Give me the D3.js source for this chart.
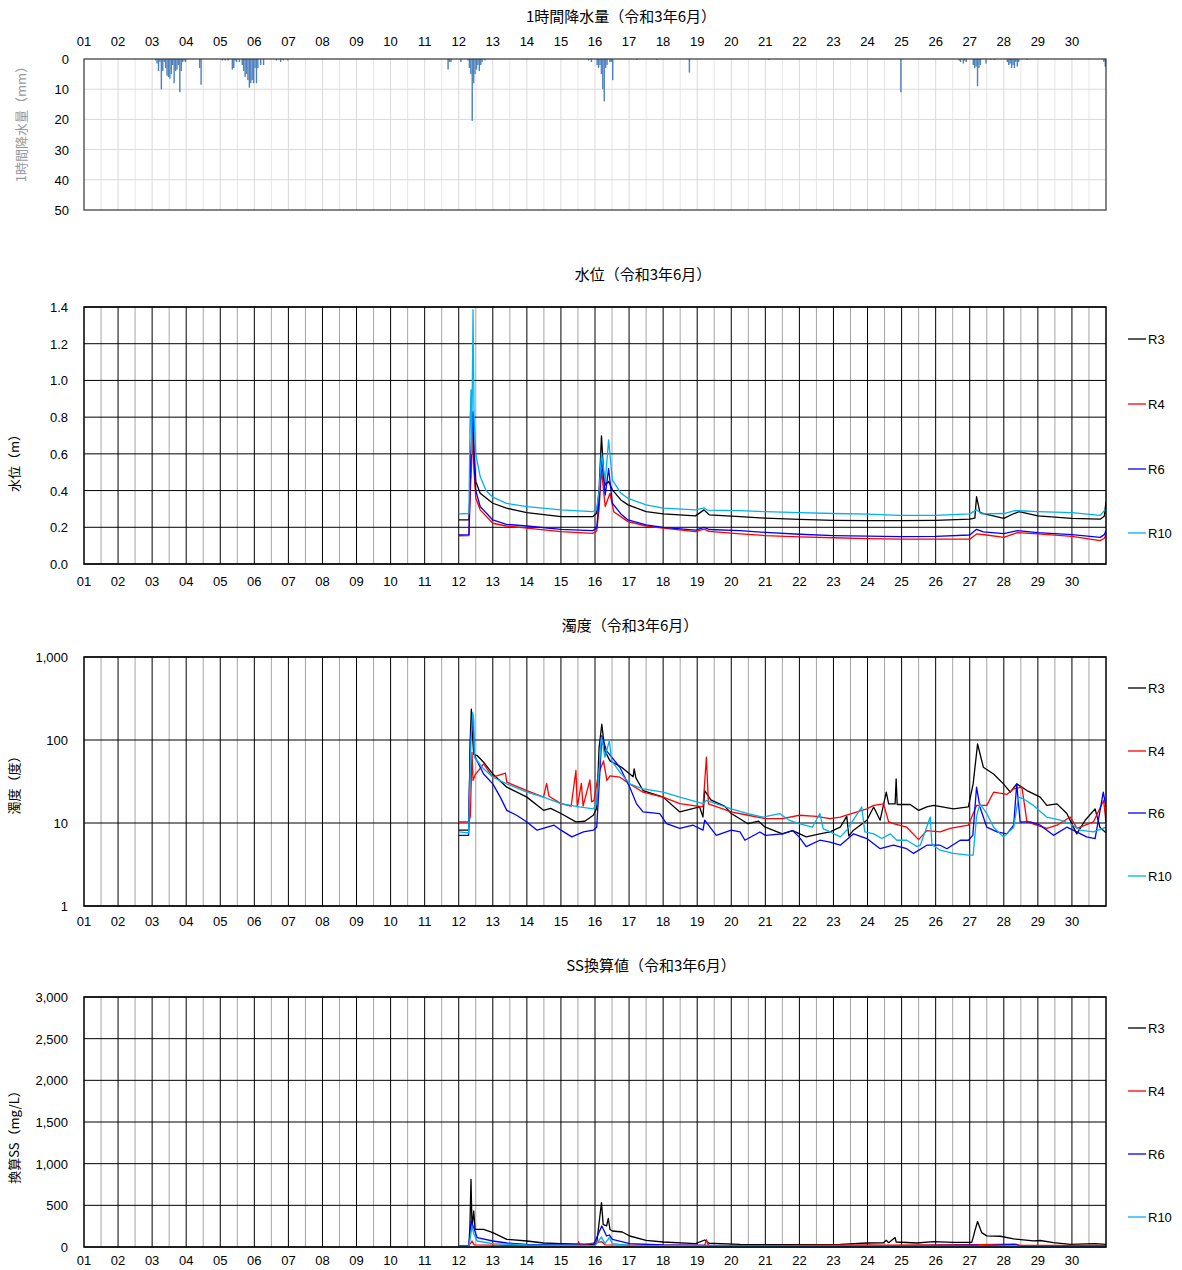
<!DOCTYPE html>
<html>
<head>
<meta charset="utf-8">
<script src="https://cdn.jsdelivr.net/npm/d3@7"></script>
<style>
  body { margin: 0; background: #fff; }
  svg text { font-family: "Liberation Sans", "Noto Sans CJK JP", sans-serif; }
  .jp { font-family: "Noto Sans CJK JP", sans-serif; }
</style>
</head>
<body>
<div id="chart"></div>
<script>
// day labels 01..30
const dayLabels = d3.range(1, 31).map(d => String(d).padStart(2, "0"));
const stations = ["R3", "R4", "R6", "R10"];
const stationColors = ["#000000", "#ff0000", "#0000ff", "#00b0f0"];

// hourly rainfall (hour index from 6/1 00:00, mm)
const rainHour = [50, 51, 52, 53, 54, 55, 56, 57, 58, 59, 60, 61, 62, 63, 64, 65, 66, 67, 68, 69, 70, 71,
  81, 82,
  97, 99, 101, 104, 105, 106, 107, 109, 111, 112, 113, 114, 115, 116, 117, 118, 119, 120, 121, 122, 124, 126,
  135, 138, 140, 143,
  256, 257, 258, 265, 270, 271, 272, 273, 274, 275, 276, 277, 278, 279, 280, 282,
  355, 357, 361, 362, 363, 364, 365, 366, 367, 368, 370, 371, 372,
  389, 403, 426, 482, 575,
  616, 617, 619, 620, 621, 626, 627, 628, 629, 630, 631, 635, 638, 641,
  650, 651, 652, 653, 654, 655, 656, 657, 658, 664, 718, 719];
const rainMm = [0.5, 1.5, 4, 1, 10, 4, 1, 3, 5.5, 6, 6.5, 5, 2, 8, 4, 3.5, 2, 11, 4, 1, 0.5, 1,
  3, 8.5,
  0.5, 0.5, 0.5, 3.5, 3, 0.5, 1, 1, 2, 4, 6, 5, 7, 9.5, 8, 7, 8, 3, 8, 3, 2, 2,
  0.5, 1, 0.5, 0.5,
  3.5, 1, 1, 1, 0.5, 3, 5, 20.5, 8, 5, 3.5, 2, 4, 2, 1, 0.5,
  0.5, 1, 2, 3, 2, 5, 10, 14, 3, 2, 1, 1, 7,
  0.3, 0.3, 4.5, 0.3, 11,
  0.5, 1, 1.5, 0.5, 1, 2, 3, 2.5, 9, 3, 2, 1.5, 0.3, 0.3,
  1, 2, 1.5, 3, 2, 3, 1, 2.5, 1, 0.3, 1, 2.5];

// water level (m) : [day, value]
const levelR3 = [[12.0,0.24],[12.30,0.24],[12.34,0.45],[12.38,0.68],[12.40,0.6],[12.42,0.825],[12.45,0.6],[12.5,0.45],[12.63,0.385],[13.0,0.331],[13.4,0.304],[14.0,0.28],[15.0,0.258],[15.93,0.258],[16.05,0.276],[16.12,0.4],[16.19,0.698],[16.25,0.5],[16.3,0.43],[16.4,0.45],[16.51,0.404],[16.76,0.349],[16.97,0.322],[17.5,0.285],[18.0,0.273],[18.95,0.262],[19.2,0.295],[19.35,0.268],[20.26,0.258],[21,0.25],[22,0.243],[23,0.238],[24,0.236],[24.95,0.236],[26,0.238],[27.0,0.244],[27.15,0.25],[27.2,0.367],[27.3,0.28],[27.5,0.27],[28.0,0.249],[28.3,0.275],[28.45,0.285],[29,0.262],[30,0.249],[30.83,0.244],[30.95,0.26],[31,0.34]];
const levelR4 = [[12.0,0.153],[12.30,0.155],[12.34,0.4],[12.38,0.55],[12.42,0.73],[12.45,0.5],[12.5,0.36],[12.63,0.295],[13.0,0.222],[13.4,0.207],[14.0,0.195],[15.0,0.176],[15.93,0.167],[16.05,0.18],[16.12,0.3],[16.19,0.513],[16.3,0.313],[16.44,0.385],[16.55,0.285],[16.97,0.231],[17.5,0.207],[18.0,0.195],[18.95,0.176],[19.2,0.19],[19.35,0.178],[20.26,0.164],[21,0.155],[22,0.148],[23,0.143],[24,0.138],[24.95,0.135],[26,0.135],[27.0,0.135],[27.2,0.164],[27.5,0.158],[28.0,0.145],[28.4,0.171],[29,0.164],[30,0.15],[30.83,0.127],[30.95,0.14],[31,0.158]];
const levelR6 = [[12.0,0.158],[12.30,0.16],[12.34,0.5],[12.38,0.7],[12.42,0.83],[12.45,0.55],[12.5,0.4],[12.63,0.313],[13.0,0.24],[13.4,0.216],[14.0,0.207],[15.0,0.189],[15.93,0.182],[16.05,0.195],[16.12,0.35],[16.19,0.58],[16.3,0.376],[16.4,0.52],[16.51,0.331],[16.76,0.273],[16.97,0.24],[17.5,0.213],[18.0,0.2],[18.95,0.185],[19.2,0.2],[19.35,0.188],[20.26,0.182],[21,0.172],[22,0.162],[23,0.155],[24,0.152],[24.95,0.149],[26,0.15],[27.0,0.158],[27.2,0.189],[27.4,0.175],[28.0,0.165],[28.4,0.182],[29,0.171],[30,0.16],[30.83,0.145],[30.95,0.16],[31,0.182]];
const levelR10 = [[12.0,0.273],[12.30,0.275],[12.33,0.75],[12.36,0.95],[12.38,0.6],[12.42,1.385],[12.45,0.8],[12.5,0.6],[12.63,0.476],[12.8,0.40],[13.0,0.364],[13.4,0.33],[14.0,0.313],[15.0,0.295],[15.93,0.285],[16.05,0.30],[16.12,0.40],[16.19,0.604],[16.3,0.45],[16.4,0.676],[16.51,0.458],[16.76,0.385],[16.97,0.358],[17.5,0.322],[18.0,0.304],[18.95,0.295],[19.2,0.306],[19.3,0.293],[20.26,0.291],[21,0.285],[22,0.28],[23,0.275],[24,0.272],[24.95,0.265],[26,0.265],[27.0,0.273],[27.2,0.295],[27.35,0.273],[28.0,0.275],[28.3,0.29],[28.45,0.29],[29,0.285],[30,0.28],[30.83,0.265],[30.95,0.29],[31,0.30]];

// turbidity (度) : [day, value]
const turbR3 = [[12.0,8.2],[12.29,8.2],[12.34,108],[12.37,235],[12.40,120],[12.44,67],[12.54,65],[12.73,54],[13.0,39],[13.41,27],[14.0,20.5],[14.49,14.2],[14.7,15],[15.0,13],[15.44,10.3],[15.7,10.5],[15.95,12.4],[16.05,15],[16.12,81],[16.2,155],[16.29,74],[16.44,56],[16.78,47],[17.12,36],[17.15,45],[17.2,35],[17.41,24.6],[18.0,20.5],[18.49,13.6],[19.07,15.6],[19.17,11.8],[19.22,24.6],[19.4,19],[19.8,16],[20.0,13],[20.49,9.8],[20.8,10.5],[21.0,8.9],[21.5,7.4],[21.8,8.1],[22.2,6.8],[22.6,7.4],[22.9,7.8],[23.2,8.9],[23.39,12],[23.45,7],[23.59,8.2],[23.98,10.8],[24.18,15.6],[24.37,10.8],[24.55,23.5],[24.62,17],[24.81,17],[24.84,34],[24.87,16.7],[25.25,16.7],[25.5,14.2],[25.74,15.6],[25.94,16.3],[26.52,14.8],[26.96,15.6],[27.1,29.6],[27.23,89.5],[27.4,47],[27.7,39],[27.99,29.6],[28.19,23.5],[28.38,29.6],[28.68,24.6],[29.07,20.5],[29.26,16.3],[29.56,17],[29.85,13],[30.14,7.4],[30.39,10.8],[30.68,14.8],[30.82,8.9],[31,7.6]];
const turbR4 = [[12.0,10.3],[12.3,10.3],[12.34,12],[12.39,71],[12.42,32.5],[12.48,38],[12.73,51.6],[13.0,35.6],[13.37,40],[13.41,31],[14.0,24.6],[14.49,20.5],[14.58,30],[14.65,21],[15.0,17.1],[15.3,16],[15.44,43],[15.48,15.6],[15.6,30],[15.65,16],[15.85,33],[15.9,18],[15.97,18.7],[16.1,39],[16.25,56],[16.35,32.5],[16.44,37],[16.73,35.6],[17.02,29.6],[17.41,23.5],[18.0,20.5],[18.49,17.1],[19.17,15.6],[19.27,62],[19.33,17],[20.0,13.6],[20.49,12.4],[21.0,11.3],[21.5,11.3],[22.0,12.4],[22.5,12],[22.9,11.3],[23.2,11.8],[23.98,14.8],[24.18,16.3],[24.47,17],[24.62,10.3],[24.76,9.8],[25.15,8.9],[25.5,6.3],[25.74,8.1],[26.13,7.8],[26.42,8.6],[26.96,9.4],[27.1,13],[27.2,16.3],[27.5,16.3],[27.7,23.5],[28.09,22.1],[28.29,25.8],[28.53,27],[28.68,10.3],[28.97,9.4],[29.26,8.6],[29.56,9.4],[29.95,11.8],[30.15,8.6],[30.63,10.3],[30.93,18.7],[31,10.3]];
const turbR6 = [[12.0,7.1],[12.29,7.1],[12.34,98],[12.42,187],[12.46,65],[12.73,39],[13.0,29.6],[13.22,20.5],[13.41,14.2],[13.7,12.4],[14.0,10.3],[14.3,8.2],[14.8,9.4],[15.0,8.2],[15.32,6.8],[15.66,7.8],[15.95,8.2],[16.05,8.9],[16.14,39],[16.2,113],[16.34,74],[16.73,47],[17.02,27],[17.22,17],[17.41,13.6],[17.9,13],[18.1,9.8],[18.49,8.6],[18.88,9.4],[19.17,8.2],[19.22,10.8],[19.56,7.1],[20.0,8.2],[20.26,7.8],[20.4,6.2],[20.84,7.8],[21.0,7.1],[21.5,7.4],[21.8,8.1],[21.99,6.8],[22.2,5.2],[22.6,6.2],[22.9,5.9],[23.2,5.4],[23.59,7.4],[23.98,6.5],[24.37,4.9],[24.76,5.4],[25.15,4.9],[25.35,4.3],[25.74,5.4],[26.13,5.4],[26.33,4.9],[26.72,6.2],[26.96,6.2],[27.09,7.1],[27.2,27],[27.3,15.6],[27.5,8.9],[27.8,7.8],[28.09,7.4],[28.29,9.4],[28.38,29.6],[28.48,10.3],[28.78,10.3],[29.07,9.4],[29.46,7.1],[29.85,8.9],[30.14,7.8],[30.43,6.8],[30.68,6.5],[30.92,23.5],[31,15.6]];
const turbR10 = [[12.0,7.8],[12.29,7.6],[12.36,98],[12.41,215],[12.44,180],[12.46,62],[12.73,45],[13.0,35.6],[13.41,29.6],[14.0,23.5],[14.49,20.5],[15.0,17.1],[15.54,15.6],[15.95,14.8],[16.05,17.1],[16.19,108],[16.29,62],[16.42,98],[16.49,56],[16.73,41],[17.02,29.6],[17.41,25.8],[18.0,23.5],[18.49,20.5],[19.17,17.1],[19.27,18.7],[20.0,14.8],[20.49,13],[20.93,11.8],[21.42,13],[21.7,10.8],[21.99,9.8],[22.38,8.9],[22.6,13],[22.7,8.5],[22.9,7.8],[23.2,6.8],[23.39,8.2],[23.83,15.6],[23.92,7.8],[24.18,7.4],[24.42,6.5],[24.67,7.4],[24.86,6.2],[25.15,6.2],[25.45,5.2],[25.55,5.4],[25.84,11.8],[25.89,5.5],[26.13,4.7],[26.52,4.3],[26.96,4.1],[27.1,4.1],[27.2,12],[27.3,17.1],[27.5,13],[27.7,8.9],[27.99,6.8],[28.29,8.9],[28.43,20.5],[28.58,19.5],[28.87,16.3],[29.26,11.8],[29.66,10.8],[29.95,9.8],[30.24,8.2],[30.63,7.8],[31,8.9]];

// converted SS (mg/L) : [day, value]
const ssR3 = [[12.0,10],[12.30,12],[12.33,272],[12.36,812],[12.39,232],[12.44,432],[12.48,212],[12.73,212],[13.0,172],[13.41,92],[14.0,72],[14.49,48],[15.0,40],[15.95,32],[16.05,45],[16.19,532],[16.24,272],[16.34,252],[16.39,344],[16.44,210],[16.51,192],[16.8,180],[17.02,132],[17.5,80],[18.0,60],[18.95,40],[19.22,84],[19.35,45],[20.26,32],[21.2,28],[23.2,32],[23.98,48],[24.47,50],[24.55,80],[24.62,52],[24.81,113],[24.84,60],[25.45,48],[25.94,64],[26.52,56],[27.06,56],[27.1,113],[27.15,194],[27.23,306],[27.35,173],[27.5,133],[27.9,129],[28.29,97],[28.87,73],[29.07,78],[29.46,52],[29.95,32],[30.68,40],[31,32]];
const ssR4 = [[12.0,15],[12.3,15],[12.39,72],[12.45,25],[13.41,20],[15.5,20],[15.52,64],[15.55,20],[16.2,64],[16.3,25],[19.22,20],[19.27,88],[19.33,20],[21,15],[24,24],[24.5,22],[27.2,28],[28.3,35],[28.5,20],[31,18]];
const ssR6 = [[12.0,8],[12.3,10],[12.36,312],[12.44,232],[12.54,112],[13.0,72],[13.41,48],[14.0,32],[15.0,24],[15.95,20],[16.2,252],[16.34,132],[16.42,144],[16.51,92],[17.02,40],[18.0,24],[20,16],[24,12],[27.2,22],[27.3,14],[28.38,30],[28.45,12],[31,16]];
const ssR10 = [[12.0,8],[12.3,8],[12.39,252],[12.44,160],[12.54,72],[13.0,40],[14.0,24],[16.0,16],[16.19,120],[16.29,40],[16.42,112],[16.51,40],[17.02,20],[20,12],[31,10]];

const levelTicks = [0, 0.2, 0.4, 0.6, 0.8, 1.0, 1.2, 1.4];
const turbTicks = [1, 10, 100, 1000];
const ssTicks = [0, 500, 1000, 1500, 2000, 2500, 3000];
const rainTicks = [0, 10, 20, 30, 40, 50];

const width = 1182, height = 1270;
const left = 84, right = 1106;

const svg = d3.select("#chart").append("svg")
  .attr("width", width).attr("height", height)
  .attr("viewBox", `0 0 ${width} ${height}`);

// shared day scale
const x = d3.scaleLinear().domain([1, 31]).range([left, right]);
const halfDays = d3.range(1.5, 31, 1);
const wholeDays = d3.range(2, 31, 1);

// ---------- rain panel ----------
{
  const top = 59, bottom = 210;
  const y = d3.scaleLinear().domain([0, 50]).range([top, bottom]);
  const g = svg.append("g");

  g.append("text").attr("class", "jp").attr("x", 621).attr("y", 22)
    .attr("text-anchor", "middle").style("font-size", "15px").text("1時間降水量（令和3年6月）");

  // grid
  g.selectAll(".hg").data(halfDays).join("line")
    .attr("x1", d => x(d)).attr("x2", d => x(d)).attr("y1", top).attr("y2", bottom)
    .attr("stroke", "#e6e6e6");
  g.selectAll(".vg").data(wholeDays).join("line")
    .attr("x1", d => x(d)).attr("x2", d => x(d)).attr("y1", top).attr("y2", bottom)
    .attr("stroke", "#d9d9d9");
  g.selectAll(".yg").data(rainTicks.slice(1, -1)).join("line")
    .attr("x1", left).attr("x2", right).attr("y1", d => y(d)).attr("y2", d => y(d))
    .attr("stroke", "#d9d9d9");

  // bars, hanging down from 0
  const bw = x(1 + 1 / 24) - x(1);
  g.selectAll(".bar").data(rainHour.map((h, i) => [h, rainMm[i]])).join("rect")
    .attr("x", d => x(1 + d[0] / 24))
    .attr("y", top)
    .attr("width", bw)
    .attr("height", d => y(d[1]) - top)
    .attr("fill", "#4f81bd");

  g.append("rect").attr("x", left).attr("y", top).attr("width", right - left).attr("height", bottom - top)
    .attr("fill", "none").attr("stroke", "#333").attr("stroke-width", 1.2);

  g.selectAll(".yt").data(rainTicks).join("text")
    .attr("x", 69).attr("y", d => y(d) + 5).attr("text-anchor", "end")
    .style("font-size", "13px").text(d => d);
  g.selectAll(".xt").data(dayLabels).join("text")
    .attr("x", (d, i) => x(i + 1)).attr("y", 46).attr("text-anchor", "middle")
    .style("font-size", "13px").text(d => d);

  g.append("text").attr("class", "jp")
    .attr("transform", `translate(26,121) rotate(-90)`)
    .attr("text-anchor", "middle").attr("fill", "#999").style("font-size", "13px")
    .text("1時間降水量（mm）");
}

// ---------- line panels ----------
function drawPanel(cfg) {
  const { top, bottom, y, ticks, fmt, title, titleX, titleY, yLabel, yLabelY, xLabelDy, series, legendY, seriesColors } = cfg;
  const g = svg.append("g");

  g.append("text").attr("class", "jp").attr("x", titleX).attr("y", titleY)
    .attr("text-anchor", "middle").style("font-size", "15px").text(title);

  // half day grid (gray) and day grid (black)
  g.selectAll(".hg").data(halfDays).join("line")
    .attr("x1", d => x(d)).attr("x2", d => x(d)).attr("y1", top).attr("y2", bottom)
    .attr("stroke", "#a6a6a6");
  g.selectAll(".vg").data(wholeDays).join("line")
    .attr("x1", d => x(d)).attr("x2", d => x(d)).attr("y1", top).attr("y2", bottom)
    .attr("stroke", "#000");
  g.selectAll(".yg").data(ticks).join("line")
    .attr("x1", left).attr("x2", right).attr("y1", d => y(d)).attr("y2", d => y(d))
    .attr("stroke", "#000");

  const line = d3.line().x(d => x(d[0])).y(d => y(d[1]));
  const clipId = "clip" + top;
  g.append("clipPath").attr("id", clipId).append("rect")
    .attr("x", left).attr("y", top).attr("width", right - left).attr("height", bottom - top);
  g.append("g").attr("clip-path", `url(#${clipId})`)
    .selectAll("path").data(series).join("path")
    .attr("d", d => line(d))
    .attr("fill", "none")
    .attr("stroke", (d, i) => seriesColors[i])
    .attr("stroke-width", 1.3)
    .attr("stroke-linejoin", "round");

  g.append("rect").attr("x", left).attr("y", top).attr("width", right - left).attr("height", bottom - top)
    .attr("fill", "none").attr("stroke", "#000").attr("stroke-width", 1.5);

  g.selectAll(".yt").data(ticks).join("text")
    .attr("x", 68).attr("y", d => y(d) + 5).attr("text-anchor", "end")
    .style("font-size", "13px").text(d => fmt(d));
  g.selectAll(".xt").data(dayLabels).join("text")
    .attr("x", (d, i) => x(i + 1)).attr("y", bottom + xLabelDy).attr("text-anchor", "middle")
    .style("font-size", "13px").text(d => d);

  g.append("text").attr("class", "jp")
    .attr("transform", `translate(19,${yLabelY}) rotate(-90)`)
    .attr("text-anchor", "middle").style("font-size", "13px").text(yLabel);

  // legend
  const lg = g.selectAll(".lg").data(stations).join("g")
    .attr("transform", (d, i) => `translate(1128,${legendY[i]})`);
  lg.append("line").attr("x1", 0).attr("x2", 18).attr("stroke", (d, i) => seriesColors[i]).attr("stroke-width", 1.3);
  lg.append("text").attr("x", 20).attr("y", 5).style("font-size", "13px").text(d => d);
}

drawPanel({
  top: 307, bottom: 564,
  y: d3.scaleLinear().domain([0, 1.4]).range([564, 307]),
  ticks: levelTicks, fmt: d3.format(".1f"),
  title: "水位（令和3年6月）", titleX: 643, titleY: 280, yLabel: "水位（m）", yLabelY: 460, xLabelDy: 22,
  series: [levelR3, levelR4, levelR6, levelR10],
  seriesColors: stationColors,
  legendY: [339, 404, 469, 533]
});

drawPanel({
  top: 657, bottom: 906,
  y: d3.scaleLog().domain([1, 1000]).range([906, 657]),
  ticks: turbTicks, fmt: d3.format(","),
  title: "濁度（令和3年6月）", titleX: 630, titleY: 631, yLabel: "濁度（度）", yLabelY: 782, xLabelDy: 20,
  series: [turbR3, turbR4, turbR6, turbR10],
  seriesColors: stationColors,
  legendY: [688, 751, 813, 876]
});

drawPanel({
  top: 997, bottom: 1247,
  y: d3.scaleLinear().domain([0, 3000]).range([1247, 997]),
  ticks: ssTicks, fmt: d3.format(","),
  title: "SS換算値（令和3年6月）", titleX: 651, titleY: 971, yLabel: "換算SS（mg/L）", yLabelY: 1134, xLabelDy: 18,
  series: [ssR3, ssR4, ssR6, ssR10],
  seriesColors: stationColors,
  legendY: [1028, 1091, 1154, 1217]
});
</script>
</body>
</html>
